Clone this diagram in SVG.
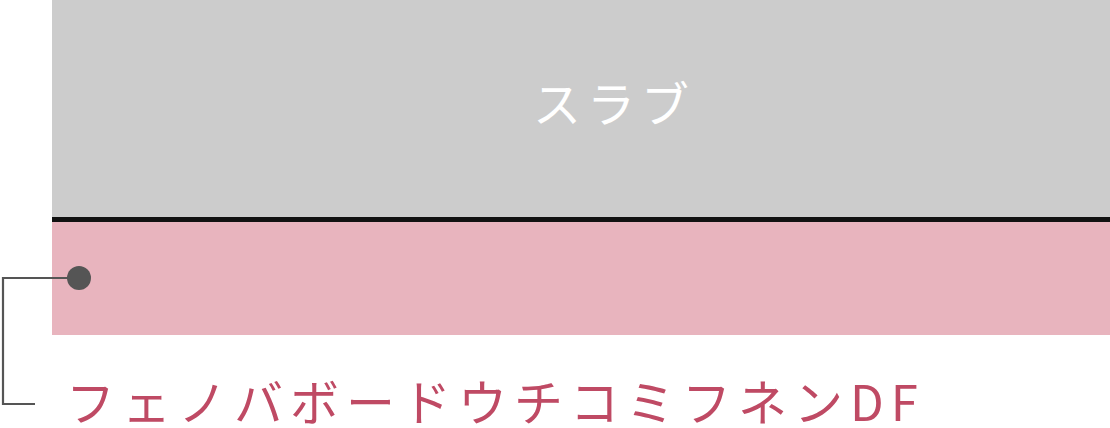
<svg xmlns="http://www.w3.org/2000/svg" width="1110" height="428" viewBox="0 0 1110 428">
<style>
.jp{font-family:"Noto Sans CJK JP","Noto Sans",sans-serif;}
.lead{fill:none;stroke:#555555;stroke-width:2.2;}
</style>
<rect width="1110" height="428" fill="#ffffff"/>
<g id="slab">
<rect x="52" y="0" width="1058" height="218" fill="#cccccc"/>
<text class="jp" x="614" y="122" font-size="48" fill="#ffffff" text-anchor="middle" letter-spacing="6">スラブ</text>
</g>
<g id="membrane">
<rect x="52" y="217" width="1058" height="5" fill="#111111"/>
</g>
<g id="board">
<rect x="52" y="222" width="1058" height="113" fill="#e8b4be"/>
</g>
<g id="connectors">
<polyline class="lead" points="79,278 3,278 3,404 35,404"/>
<circle cx="79" cy="278" r="12" fill="#555555"/>
</g>
<g id="label">
<text class="jp" x="66" y="421" font-size="49" fill="#bf4a64" letter-spacing="7">フェノバボードウチコミフネンDF</text>
</g>
</svg>
